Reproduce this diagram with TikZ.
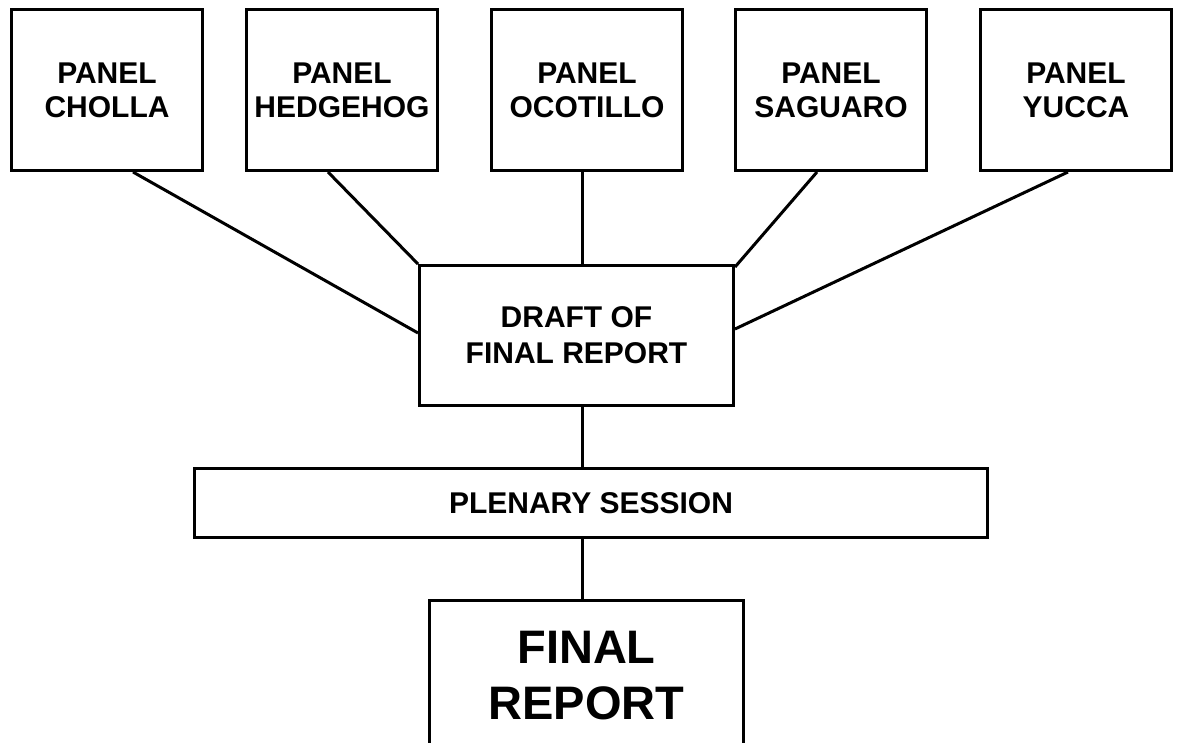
\documentclass[tikz,border=0pt]{standalone}
\usepackage{fontspec}
\setmainfont{Liberation Sans}
\begin{document}
\begin{tikzpicture}[x=1pt,y=-1pt,
  box/.style={draw=black, line width=3pt, rectangle, align=center, inner sep=0pt},
  panelbox/.style={box, minimum width=191pt, minimum height=161pt,
    font=\fontsize{30}{34}\selectfont\bfseries},
  link/.style={draw=black, line width=3pt}]
\useasboundingbox (0,0) rectangle (1177,742);
\clip (0,0) rectangle (1177,742);
\coordinate (spine) at (582,0);
\node[panelbox] (cholla)   at (107,90)  {PANEL\\CHOLLA};
\node[panelbox] (hedgehog) at (342,90)  {PANEL\\HEDGEHOG};
\node[panelbox] (ocotillo) at (587,90)  {PANEL\\OCOTILLO};
\node[panelbox] (saguaro)  at (831,90)  {PANEL\\SAGUARO};
\node[panelbox] (yucca)    at (1076,90) {PANEL\\YUCCA};
\node[box, minimum width=314pt, minimum height=140pt,
  font=\fontsize{30}{36}\selectfont\bfseries] (draft) at (576.5,335.5) {DRAFT OF\\FINAL REPORT};
\node[box, minimum width=793pt, minimum height=69pt,
  font=\fontsize{30}{36}\selectfont\bfseries] (plenary) at (591,503) {PLENARY SESSION};
\node[box, minimum width=314pt, minimum height=150pt,
  font=\fontsize{47}{56}\selectfont\bfseries] (final) at (586.5,675.5) {FINAL\\REPORT};
\draw[link] ([xshift=26pt]cholla.south) -- ([yshift=2.5pt]draft.west);
\draw[link] ([xshift=-14pt]hedgehog.south) -- (draft.north west);
\draw[link] (ocotillo.south -| spine) -- (draft.north -| spine);
\draw[link] ([xshift=-14pt]saguaro.south) -- ([yshift=-3pt]draft.north east);
\draw[link] ([xshift=-8pt]yucca.south) -- ([yshift=6.5pt]draft.east);
\draw[link] (draft.south -| spine) -- (plenary.north -| spine);
\draw[link] (plenary.south -| spine) -- (final.north -| spine);
\end{tikzpicture}
\end{document}
